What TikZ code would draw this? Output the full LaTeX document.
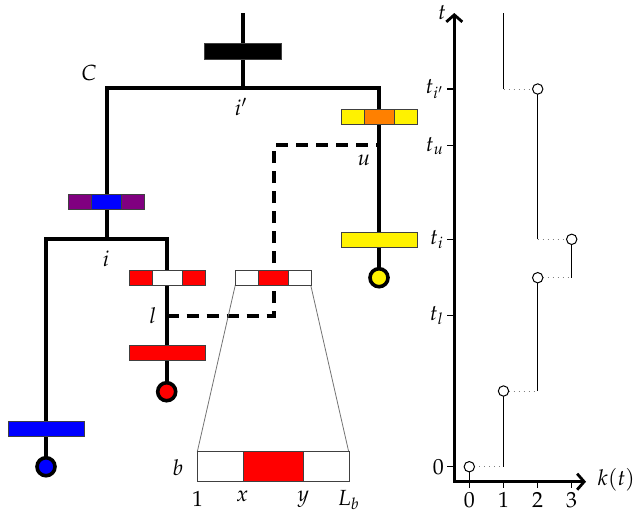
\documentclass[tikz,border=0pt,11pt]{standalone}
\usepackage{mathpazo}
\usetikzlibrary{arrows.meta}
\tikzset{
	branch/.style={line width=2pt},
	trace/.style={line width=2pt, dash pattern=on 6pt off 4pt},
	bar/.style={draw=black!75, line width=0.4pt},
	leaf/.style={line width=1.8pt},
	zoomline/.style={draw=black!55, line width=0.4pt},
	axis/.style={line width=1.4pt, {Straight Barb[length=3.5pt,width=8pt]}-{Straight Barb[length=3.5pt,width=8pt]}},
	stepline/.style={line width=0.55pt},
	gap/.style={draw=black!50, line width=0.5pt, dotted},
	event/.style={draw, fill=white, line width=0.5pt},
}
\def\tribar(#1,#2)#3#4#5{%
	\begin{scope}[shift={(#1,#2)}]
		\draw[bar, fill=#3] (-38,-7.5) rectangle (-15,7.5);
		\draw[bar, fill=#4] (-15,-7.5) rectangle (15,7.5);
		\draw[bar, fill=#5] (15,-7.5) rectangle (38,7.5);
	\end{scope}}

\begin{document}
\begin{tikzpicture}[x=0.5pt, y=-0.5pt]
		%%%%% START %%%%%
		\useasboundingbox (0,0) rectangle (635,516);

		% tree
		\coordinate (top) at (242.7,13);
		\coordinate (ip) at (242.7,88.3);
		\coordinate (C) at (106.7,88.3);
		\coordinate (ur) at (379,88.3);
		\coordinate (i) at (106.7,239);
		\coordinate (il) at (46,239);
		\coordinate (ir) at (166.7,239);
		\coordinate (blue) at (46,466.7);
		\coordinate (red) at (166.7,391.7);
		\coordinate (yellow) at (379,277.7);
		\coordinate (l) at (166.7,315.7);
		\coordinate (u) at (379,145);

		\draw[branch] (top) -- (ip);
		\draw[branch] (i) -- (C) -- (ur) -- (yellow);
		\draw[branch] (blue) -- (il) -- (ir) -- (red);
		\draw[trace] (l) -- (274,315.7) -- (274,145) -- (u);

		\draw[zoomline] (235.3,285) -- (197.3,451.7);
		\draw[zoomline] (310.7,285) -- (348.7,451.7);

		\draw[bar, fill=black] (204,43) rectangle (281,59);
		\tribar(106.7,202){violet}{blue}{violet}
		\tribar(167,277.5){red}{white}{red}
		\tribar(273,277.5){white}{red}{white}
		\tribar(379,117){yellow}{orange}{yellow}
		\draw[bar, fill=yellow] (341,232) rectangle (417,247);
		\draw[bar, fill=red] (129,345.7) rectangle (205,360.7);
		\draw[bar, fill=blue] (8.3,421.7) rectangle (84.3,436.7);

		\begin{scope}[shift={(273,466.7)}, scale=2]
			\tribar(0,0){white}{red}{white}
		\end{scope}

		\draw[leaf, fill=blue] (blue) circle[radius=4.5pt];
		\draw[leaf, fill=red] (red) circle[radius=4.5pt];
		\draw[leaf, fill=yellow] (yellow) circle[radius=4.5pt];

		\node (lC) at (89,73) {$C$};
		\node (lip) at (241,107) {$i'$};
		\node (li) at (106,259) {$i$};
		\node (ll) at (153,316) {$l$};
		\node (lu) at (364,160) {$u$};
		\node[anchor=east] (lb) at (191,468) {$b$};
		\node[anchor=north] (l1) at (197.7,483) {$1$};
		\node[anchor=north] (lx) at (242.3,483) {$x$};
		\node[anchor=north] (ly) at (303.3,483) {$y$};
		\node[anchor=north] (lLb) at (348.7,483) {$L_b$};

		% k(t) plot
		\coordinate (origin) at (454.3,481.7);
		\draw[axis] (454.3,13) -- (origin) -- (586,481.7);
		\node (lt) at (442,13) {$t$};
		\node[anchor=west] (lk) at (590,480) {$k(t)$};

		\foreach \y/\lab in {89/t_{i'}, 145.7/t_u, 239.3/t_i, 315.7/t_l, 466.7/0}{
			\draw[line width=0.6pt] (447.3,\y) -- (454.3,\y);
			\node[anchor=east, inner sep=1.5pt] at (447.3,\y) {$\lab$};
		}
		\foreach \x/\lab in {469.3/0, 503.5/1, 537.7/2, 571.7/3}{
			\draw[line width=0.6pt] (\x,481.7) -- (\x,488);
			\node[anchor=north, inner sep=2pt] at (\x,488) {$\lab$};
		}

		\coordinate (p0) at (469.3,466.7);
		\coordinate (p1) at (503.5,391);
		\coordinate (p2) at (537.7,277.7);
		\coordinate (p3) at (571.7,239.3);
		\coordinate (p4) at (537.7,89);

		\draw[stepline] (p0) -- (469.3,481.7);
		\draw[gap] (p0) -- (503.5,466.7);
		\draw[stepline] (503.5,466.7) -- (p1);
		\draw[gap] (p1) -- (537.7,391);
		\draw[stepline] (537.7,391) -- (p2);
		\draw[gap] (p2) -- (571.7,277.7);
		\draw[stepline] (571.7,277.7) -- (p3);
		\draw[gap] (537.7,239.3) -- (p3);
		\draw[stepline] (537.7,239.3) -- (p4);
		\draw[gap] (503.5,89) -- (p4);
		\draw[stepline] (503.5,89) -- (503.5,13.3);

		\foreach \p in {p0,p1,p2,p3,p4}
			\draw[event] (\p) circle[radius=2.6pt];

		%%%%% END %%%%%
	\end{tikzpicture}
\end{document}
